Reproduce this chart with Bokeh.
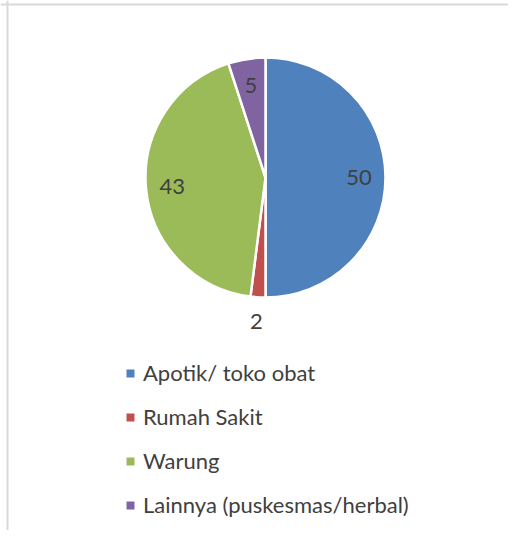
import math
from bokeh.plotting import figure
from bokeh.models import Range1d, Legend, LegendItem, ColumnDataSource, Span
from bokeh.core.properties import value
from bokeh.embed import file_html
from bokeh.resources import INLINE

categories = ["Apotik/ toko obat", "Rumah Sakit", "Warung", "Lainnya (puskesmas/herbal)"]
values = [50, 2, 43, 5]
colors = ["#4F81BD", "#C0504D", "#9BBB59", "#8064A2"]

W, H = 508, 530
cx, cy, r = 265, 353, 120
FONT = "Lato"
TEXT_COLOR = "#404040"

total = sum(values)
starts, ends, lx, ly, labels = [], [], [], [], []
acc = 0.0
for v in values:
    a0 = math.pi / 2 - 2 * math.pi * acc / total
    a1 = math.pi / 2 - 2 * math.pi * (acc + v) / total
    starts.append(a0)
    ends.append(a1)
    mid = (a0 + a1) / 2
    frac = v / total
    rf = 1.2 if frac < 0.03 else 0.78
    lx.append(cx + rf * r * math.cos(mid))
    ly.append(cy + rf * r * math.sin(mid))
    labels.append(str(v))
    acc += v

lab = ColumnDataSource(dict(x=lx, y=ly, text=labels))

p = figure(width=W, height=H, output_backend="svg", toolbar_location=None,
           x_range=Range1d(0, W), y_range=Range1d(0, H), min_border=0)
p.xaxis.visible = False
p.yaxis.visible = False
p.grid.visible = False
p.outline_line_color = None
p.background_fill_color = "white"
p.border_fill_color = "white"

for i in range(len(values)):
    p.wedge(x=cx, y=cy, radius=r, start_angle=starts[i], end_angle=ends[i],
            direction="clock", fill_color=colors[i], line_color="white",
            line_width=2.5)

p.text(x="x", y="y", text="text", source=lab, text_align="center",
       text_baseline="middle", text_font=value(FONT), text_font_size="22px",
       text_color=TEXT_COLOR)

p.add_layout(Span(location=7, dimension="height", line_color="#D9D9D9", line_width=2))
p.add_layout(Span(location=H - 4, dimension="width", line_color="#D9D9D9", line_width=2))

# legend swatches (invisible NaN points, only used for the legend)
swatches = []
for c in colors:
    sw = p.scatter(x=[float("nan")], y=[float("nan")], marker="square",
                   fill_color=c, line_color=None)
    swatches.append(sw)

legend = Legend(items=[LegendItem(label=c, renderers=[sw]) for c, sw in zip(categories, swatches)],
                location=(120, 12), orientation="vertical",
                glyph_width=20, glyph_height=20, label_height=24, spacing=17,
                label_standoff=3, padding=0, margin=0,
                label_text_font=FONT, label_text_font_size="22px",
                label_text_color=TEXT_COLOR, border_line_color=None,
                background_fill_alpha=0)
p.add_layout(legend)

open("out.html", "w").write(file_html(p, INLINE))
